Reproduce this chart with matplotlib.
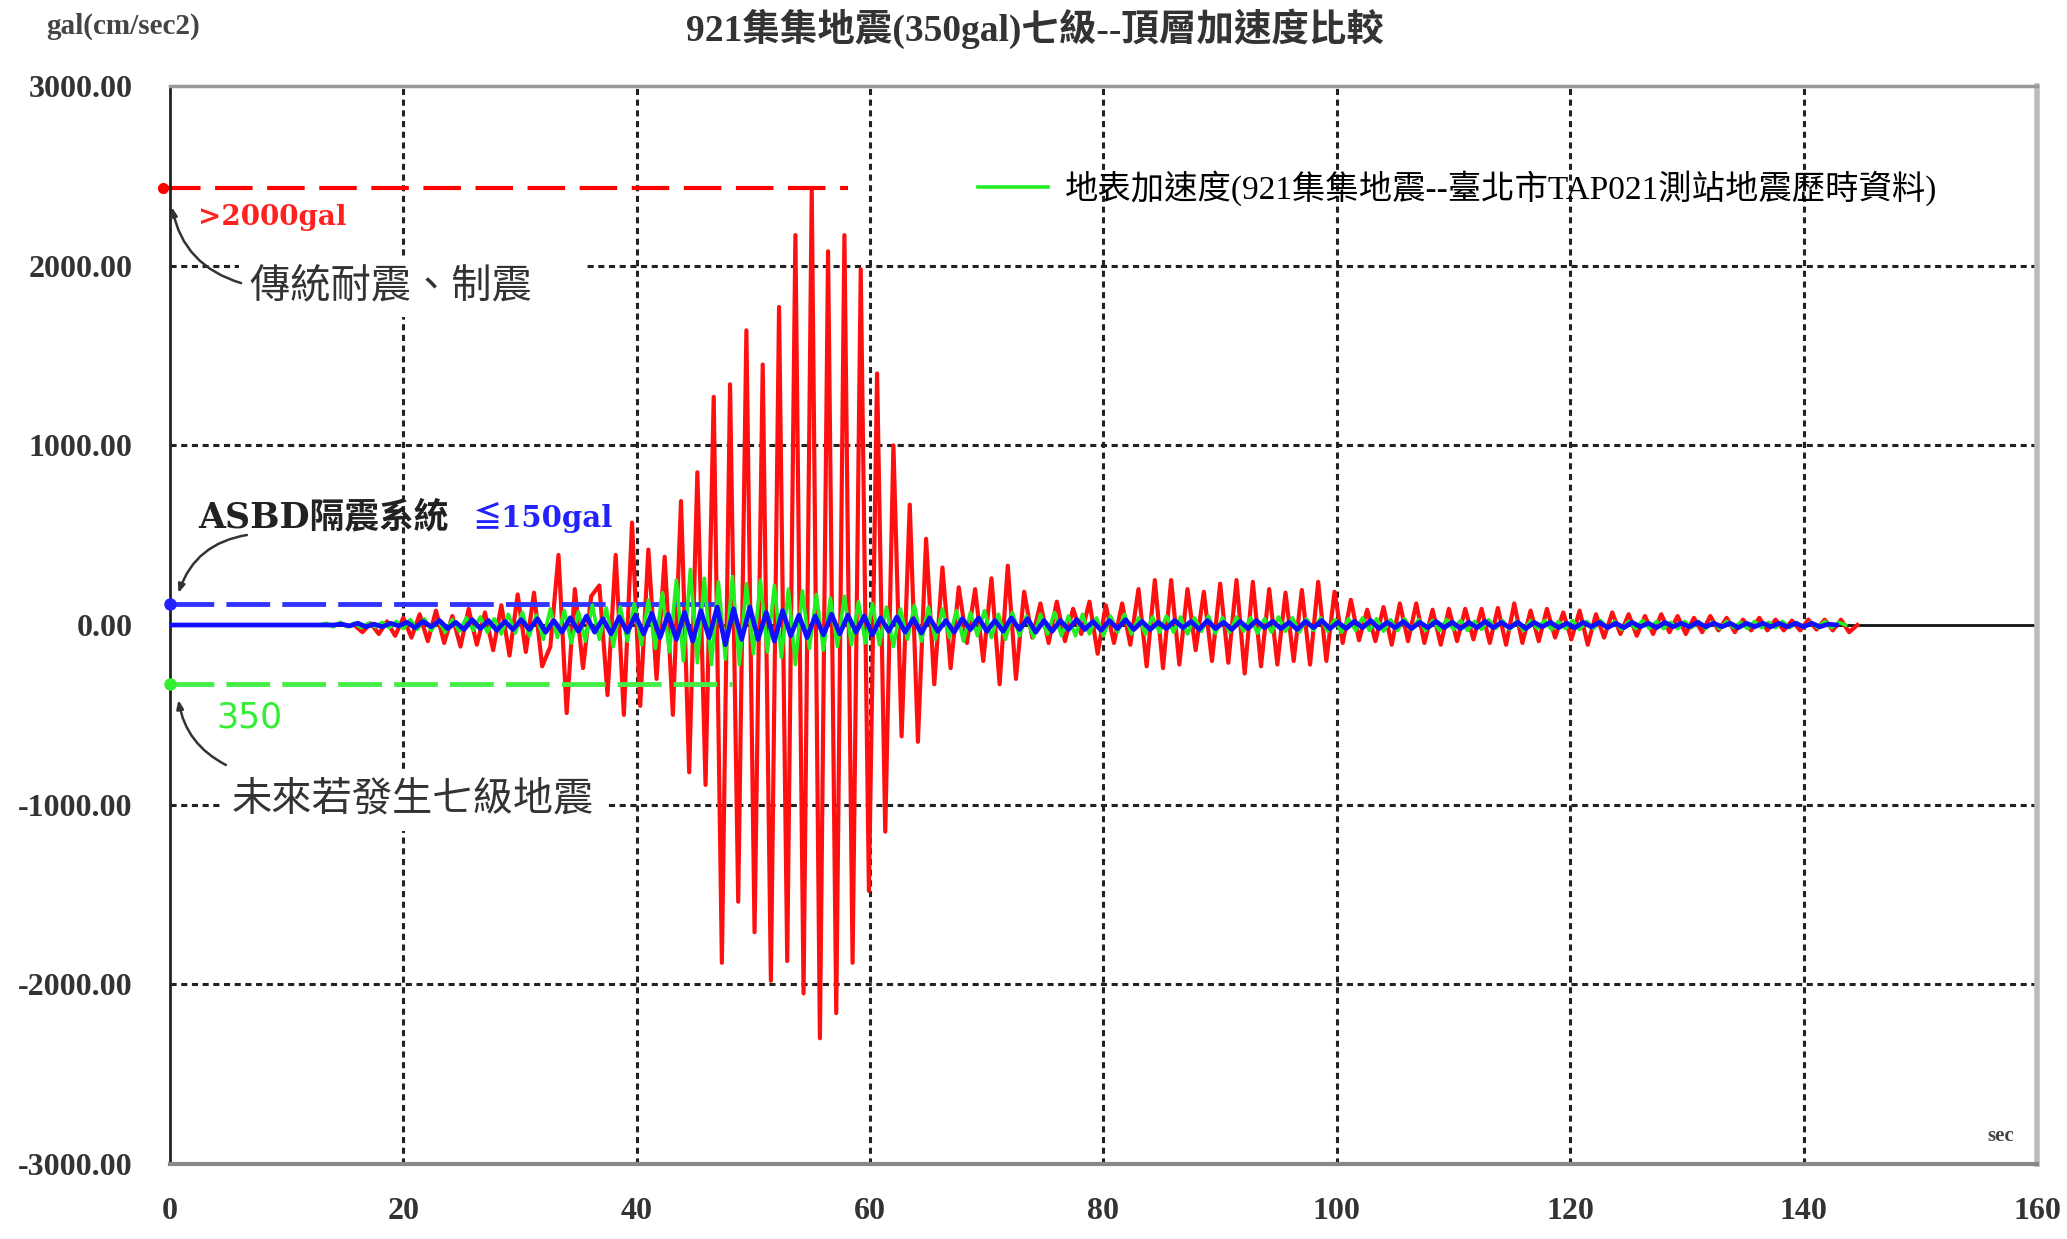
import numpy as np
import matplotlib
matplotlib.use('Agg')
import matplotlib.pyplot as plt

# 頂層加速度 (傳統耐震/制震) -- 各半週期峰值, gal
red_t0, red_dt = 15.8, 0.7
red_peaks = [
    0, -40, 10, -50, 20, -60, 40, -70, 60, -90,
    80, -100, 50, -120, 90, -110, 70, -140, 110, -170,
    170, -150, 180, -230, -120, 390, -490, 200, -240, 160,
    220, -390, 390, -500, 570, -450, 420, -300, 380, -500,
    690, -820, 850, -890, 1270, -1880, 1340, -1540, 1640, -1710,
    1450, -1980, 1770, -1870, 2170, -2050, 2430, -2300, 2080, -2160,
    2170, -1880, 1980, -1480, 1400, -1150, 1000, -620, 670, -650,
    480, -330, 320, -240, 210, -100, 200, -200, 260, -330,
    330, -300, 185, -70, 120, -100, 130, -90, 90, -50,
    130, -160, 110, -100, 120, -110, 200, -230, 250, -240,
    250, -220, 200, -140, 185, -200, 230, -210, 250, -270,
    240, -230, 200, -220, 180, -200, 195, -220, 240, -200,
    185, -100, 140, -85, 85, -90, 100, -110, 120, -90,
    120, -100, 85, -110, 90, -90, 90, -80, 90, -100,
    95, -110, 120, -100, 80, -90, 90, -70, 70, -80,
    80, -110, 60, -70, 70, -50, 60, -60, 50, -50,
    60, -40, 50, -50, 40, -40, 50, -30, 40, -40,
    30, -30, 40, -30, 30, -30, 25, -30, 30, -25,
    30, -30, 30, -40, 0,
]

# 地表加速度 (921集集地震 TAP021)
green_t0, green_dt = 12.8, 0.6
green_peaks = [
    0, 10, -10, 15, -10, 10, -15, 10, -10, 15, -15, 20,
    -20, 30, -25, 35, -30, 25, -40, 30, -35, 40, -30, 45, -40, 35,
    -50, 60, -45, 70, -60, 55, -80, 90, -70, 80, -100, 75, -90, 110, -80, 95, -120, 100, -90, 120,
    -110, 140, -130, 180, -150, 250, -200, 310, -210, 260, -220,
    240, -190, 270, -220, 230, -160, 250, -150, 220, -180, 200, -220, 190, -130,
    170, -140, 150, -120, 160, -110, 130, -100, 120, -110, 100, -120, 90, -80, 110, -90, 100,
    -80, 90, -70, 80, -90, 70, -60, 80, -70, 60, -80, 70, -60, 50, -70, 60, -50, 70, -60, 50,
    -60, 60, -50, 40, -60, 50, -40, 60, -50, 40, -50, 45, -40,
    50, -40, 45, -50, 40, -35, 50, -45, 40, -40, 45, -35, 40, -45, 35, -40, 45, -35, 40, -40,
    35, -30, 40, -35, 30, -40, 35, -30, 40, -30, 35, -35, 30, -30, 35, -25, 30, -30, 25, -30,
    30, -25, 25, -30, 20, -25, 30, -20, 25, -25, 20, -30, 25, -20, 25, -25, 20, -20, 25, -25,
    20, -20, 25, -20, 20, -25, 20, -20, 25, -20, 20, -20, 15, -20, 20, -15, 20, -20, 15, -20,
    20, -15, 15, -20, 20, -15, 15, -15, 20, -15, 15, -15, 15, -15, 20, -15, 15, 0,
]

# ASBD隔震系統 頂層加速度
blue_t0, blue_dt = 14.0, 0.7
blue_peaks = [
    0, 5, -5, 10, -10, 5, -10, 10, -5,
    15, -15, 20, -10, 25, -20, 15, -25, 30, -20, 25, -30, 20, -25,
    30, -25, 35, -40, 25, -40, 40, -35, 50, -40, 35, -50, 45, -40,
    55, -50, 65, -70, 60, -80, 70,
    -90, 80, -70, 100, -110, 90, -80, 100, -80, 70, -90, 80,
    -60, 55, -70, 50, -55, 60, -50, 55, -40, 50, -55, 40, -35,
    45, -40, 35, -45, 40, -35, 25, -40, 35, -25, 40, -35, 25, -35, 40, -25, 35, -40, 25, -35,
    25, -25, 30, -25, 20, -30,
    25, -20, 30, -25, 20, -25, 15, -20, 25, -15, 20, -25, 25, -20, 15, -25, 20, -20, 25, -15,
    20, -20, 15, -25, 20, -15, 25, -20, 15, -20, 20, -15, 25, -20, 15, -15, 20, -20, 15, -15,
    20, -15, 15, -20, 15, -15, 20, -15, 15, -15, 15, -20, 15, -10, 15, -15, 10, -15, 15, -10,
    15, -15, 10, -15, 15, -10, 10, -15, 15, -10, 10, -10, 15, -10, 10, -10, 10, -15, 10, -10,
    10, -10, 10, -10, 10, -10, 10, -10, 5, 0,
]

x_ticks = [0, 20, 40, 60, 80, 100, 120, 140, 160]
x_labels = ['0', '20', '40', '60', '80', '100', '120', '140', '160']
y_ticks = [3000, 2000, 1000, 0, -1000, -2000, -3000]
y_labels = ['3000.00', '2000.00', '1000.00', '0.00', '-1000.00', '-2000.00', '-3000.00']
grid_x = [20, 40, 60, 80, 100, 120, 140]
grid_y = [2000, 1000, -1000, -2000]

# 標示線 (gal) 與其長度 (sec)
red_level, red_end = 2430, 58.1
blue_level, blue_end = 117, 47.5
green_level, green_end = -330, 48.2

title = '921集集地震(350gal)七級--頂層加速度比較'
legend_label = '地表加速度(921集集地震--臺北市TAP021測站地震歷時資料)'

SERIF = ['Liberation Serif', 'Noto Sans CJK TC', 'DejaVu Sans']
HEAVY = ['DejaVu Serif', 'Noto Sans CJK TC', 'DejaVu Sans']
plt.rcParams['font.family'] = SERIF

red_t = red_t0 + red_dt * np.arange(len(red_peaks))
green_t = green_t0 + green_dt * np.arange(len(green_peaks))
blue_t = np.concatenate([[0.0], blue_t0 + blue_dt * np.arange(len(blue_peaks))])
blue_v = [0] + blue_peaks

fig = plt.figure(figsize=(20.67, 12.39), dpi=100)
ax = fig.add_axes([0.0822, 0.0605, 0.9033, 0.8701])
ax.set_xlim(0, 160)
ax.set_ylim(-3000, 3000)

for gx in grid_x:
    ax.axvline(gx, color='#222222', lw=2.2, ls=(0, (2, 1.5)), zorder=1)
for gy in grid_y:
    ax.axhline(gy, color='#222222', lw=2.2, ls=(0, (2, 1.5)), zorder=1)
ax.axhline(0, color='#111111', lw=2, zorder=1.5)

ax.plot(red_t, red_peaks, color='#ff1010', lw=3, zorder=2)
green_line, = ax.plot(green_t, green_peaks, color='#22ee22', lw=2.6, zorder=3)
ax.plot(blue_t, blue_v, color='#1010ff', lw=3.4, zorder=4)

# 標示虛線
ax.plot([-0.6, red_end], [red_level, red_level], color='#ff0000', lw=3,
        dashes=(9, 3.5), zorder=2.5, clip_on=False)
ax.plot([-0.6], [red_level], 'o', color='#ff0000', ms=7, clip_on=False, zorder=5)
ax.plot([0, blue_end], [blue_level, blue_level], color='#3333ff', lw=3.5,
        dashes=(9, 2.5), zorder=2.5)
ax.plot([0], [blue_level], 'o', color='#2222ff', ms=8, clip_on=False, zorder=5)
ax.plot([0, green_end], [green_level, green_level], color='#44ee44', lw=3.5,
        dashes=(9, 2.5), zorder=2.5)
ax.plot([0], [green_level], 'o', color='#33ee33', ms=8, clip_on=False, zorder=5)

# 文字標註
ax.text(2.4, 2270, '>2000gal', color='#ff2020', fontsize=20, fontweight='bold',
        family=HEAVY, va='center', ha='left', zorder=6)
ax.text(6.9, 1881, '傳統耐震、制震\u3000', color='#333333', fontsize=29,
        va='center', ha='left', zorder=6,
        bbox=dict(facecolor='white', edgecolor='none', pad=8))
ax.text(2.4, 601, 'ASBD隔震系統', color='#222222', fontsize=25, fontweight='bold',
        family=HEAVY, va='center', ha='left', zorder=6)
ax.text(25.9, 601, '≦150gal', color='#2222ff', fontsize=21, fontweight='bold',
        family=HEAVY, va='center', ha='left', zorder=6)
ax.text(4.0, -512, '350', color='#33ee33', fontsize=25,
        family=['Liberation Sans Narrow', 'DejaVu Sans'],
        va='center', ha='left', zorder=6)
ax.text(5.3, -980, '未來若發生七級地震', color='#333333', fontsize=29,
        va='center', ha='left', zorder=6,
        bbox=dict(facecolor='white', edgecolor='none', pad=8))
ax.text(156.9, -2844, 'sec', color='#444444', fontsize=15, fontweight='bold',
        va='center', ha='center', zorder=6)

arrow = dict(arrowstyle='-|>,head_length=0.5,head_width=0.2', color='#333333',
             lw=1.8, shrinkA=0, shrinkB=0)
ax.annotate('', xy=(0.17, 2326), xytext=(6.1, 1903),
            arrowprops=dict(arrow, connectionstyle='arc3,rad=-0.3'), zorder=6)
ax.annotate('', xy=(0.73, 178), xytext=(6.6, 501),
            arrowprops=dict(arrow, connectionstyle='arc3,rad=0.3'), zorder=6)
ax.annotate('', xy=(0.73, -417), xytext=(4.8, -779),
            arrowprops=dict(arrow, connectionstyle='arc3,rad=-0.25'), zorder=6)

# 座標軸外觀
ax.spines['left'].set_color('#222222')
ax.spines['left'].set_linewidth(2)
ax.spines['bottom'].set_color('#888888')
ax.spines['bottom'].set_linewidth(3)
ax.spines['top'].set_color('#999999')
ax.spines['top'].set_linewidth(2.5)
ax.spines['right'].set_color('#bbbbbb')
ax.spines['right'].set_linewidth(4)

ax.set_xticks(x_ticks)
ax.set_xticklabels(x_labels)
ax.set_yticks(y_ticks)
ax.set_yticklabels(y_labels)
ax.tick_params(length=0, labelsize=23, labelcolor='#333333')
ax.tick_params(axis='x', pad=24)
ax.tick_params(axis='y', pad=27)
for lab in ax.get_xticklabels() + ax.get_yticklabels():
    lab.set_fontweight('bold')

ax.legend(handles=[green_line], labels=[legend_label], loc='center left',
          bbox_to_anchor=(0.4328, 0.9054), frameon=False, fontsize=24,
          handlelength=2.1, handletextpad=0.5, borderpad=0, borderaxespad=0)

fig.text(0.5007, 0.9766, title, ha='center', va='center', fontsize=27,
         fontweight='bold', color='#333333')
fig.text(0.0223, 0.979, 'gal(cm/sec2)', ha='left', va='center', fontsize=21,
         fontweight='bold', color='#444444')

fig.savefig('out.png', dpi=100)
